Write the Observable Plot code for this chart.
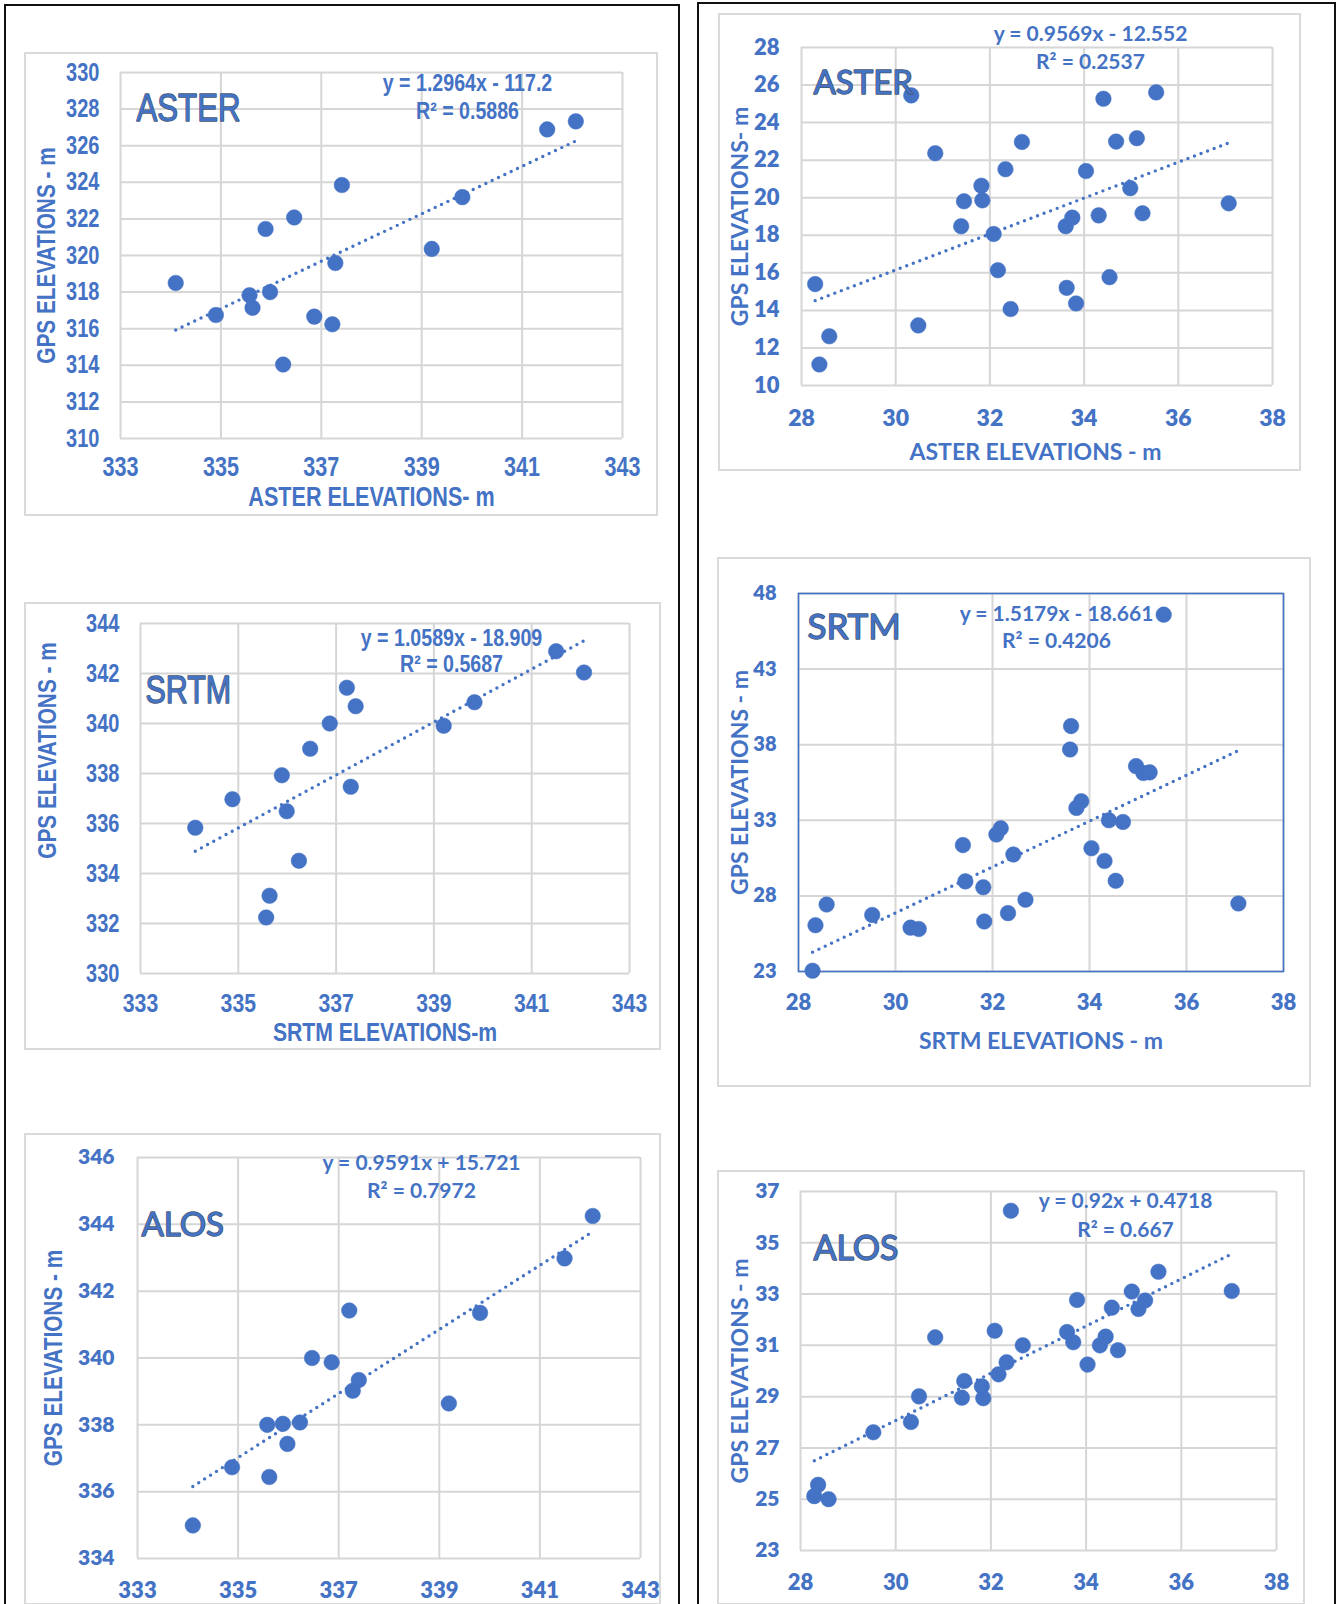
<!DOCTYPE html>
<html><head><meta charset="utf-8">
<script src="https://cdn.jsdelivr.net/npm/d3@7"></script>
<script src="https://cdn.jsdelivr.net/npm/@observablehq/plot@0.6"></script>
<style>
html,body{margin:0;padding:0;background:#fff;}
#page{position:relative;width:1342px;height:1604px;overflow:hidden;background:#fff;}
.col{position:absolute;border:2px solid #111;box-sizing:border-box;}
.box{position:absolute;border:2px solid #DADADA;box-sizing:border-box;}
.chart{position:absolute;}
</style></head><body><div id="page"></div>
<script>
// ---------------- DATA ----------------
const leftXTicks = [333, 335, 337, 339, 341, 343];
const rightXTicks = [28, 30, 32, 34, 36, 38];

// ASTER (left column)
const asterLeftX = [334.1, 334.9, 335.57, 335.63, 335.89, 335.98, 336.24, 336.46, 336.86, 337.22, 337.28, 337.41, 339.2, 339.81, 341.5, 342.07];
const asterLeftY = [318.5, 316.75, 317.83, 317.14, 321.45, 318.0, 314.04, 322.08, 316.66, 316.24, 319.59, 323.85, 320.36, 323.19, 326.89, 327.33];
const asterLeftYTicks = [310, 312, 314, 316, 318, 320, 322, 324, 326, 328, 330];
const asterLeftFit = [1.2964, -117.2];
const asterLeftEq = ["y = 1.2964x - 117.2", "R² = 0.5886"];

// SRTM (left column)
const srtmLeftX = [334.12, 334.88, 335.57, 335.64, 335.89, 335.99, 336.24, 336.47, 336.87, 337.22, 337.3, 337.4, 339.2, 339.83, 341.5, 342.07];
const srtmLeftY = [335.83, 336.97, 332.24, 333.11, 337.93, 336.49, 334.51, 338.99, 340.0, 341.43, 337.47, 340.69, 339.91, 340.85, 342.89, 342.04];
const srtmLeftYTicks = [330, 332, 334, 336, 338, 340, 342, 344];
const srtmLeftFit = [1.0589, -18.909];
const srtmLeftEq = ["y = 1.0589x - 18.909", "R² = 0.5687"];

// ALOS (left column)
const alosLeftX = [334.1, 334.88, 335.58, 335.62, 335.89, 335.98, 336.23, 336.47, 336.86, 337.21, 337.28, 337.4, 339.19, 339.81, 341.49, 342.05];
const alosLeftY = [334.99, 336.73, 338.0, 336.44, 338.03, 337.43, 338.07, 340.0, 339.87, 341.42, 339.02, 339.34, 338.64, 341.35, 342.98, 344.25];
const alosLeftYTicks = [334, 336, 338, 340, 342, 344, 346];
const alosLeftFit = [0.9591, 15.721];
const alosLeftEq = ["y = 0.9591x + 15.721", "R² = 0.7972"];

// ASTER (right column)
const asterRightX = [28.29, 28.38, 28.59, 30.33, 30.48, 30.84, 31.39, 31.45, 31.82, 31.84, 32.08, 32.17, 32.33, 32.44, 32.68, 33.61, 33.63, 33.75, 33.83, 34.04, 34.31, 34.41, 34.54, 34.68, 34.98, 35.12, 35.24, 35.53, 37.07];
const asterRightY = [15.4, 11.12, 12.62, 25.45, 13.2, 22.37, 18.48, 19.81, 20.64, 19.86, 18.07, 16.14, 21.52, 14.07, 22.97, 18.48, 15.2, 18.94, 14.37, 21.42, 19.06, 25.27, 15.77, 22.99, 20.51, 23.17, 19.17, 25.61, 19.7];
const asterRightYTicks = [10, 12, 14, 16, 18, 20, 22, 24, 26, 28];
const asterRightFit = [0.9569, -12.552];
const asterRightEq = ["y = 0.9569x - 12.552", "R² = 0.2537"];

// SRTM (right column)
const srtmRightX = [28.29, 28.35, 28.58, 29.52, 30.31, 30.48, 31.39, 31.44, 31.81, 31.83, 32.08, 32.17, 32.32, 32.43, 32.68, 33.6, 33.62, 33.73, 33.83, 34.04, 34.31, 34.4, 34.54, 34.69, 34.96, 35.11, 35.24, 35.53, 37.07];
const srtmRightY = [23.05, 26.06, 27.43, 26.74, 25.9, 25.81, 31.36, 28.96, 28.57, 26.31, 32.06, 32.47, 26.86, 30.74, 27.75, 37.68, 39.23, 33.82, 34.26, 31.15, 30.31, 33.0, 29.0, 32.89, 36.58, 36.13, 36.17, 46.6, 27.5];
const srtmRightYTicks = [23, 28, 33, 38, 43, 48];
const srtmRightFit = [1.5179, -18.661];
const srtmRightEq = ["y = 1.5179x - 18.661", "R² = 0.4206"];

// ALOS (right column)
const alosRightX = [28.29, 28.37, 28.59, 29.53, 30.32, 30.49, 30.83, 31.39, 31.44, 31.81, 31.84, 32.08, 32.16, 32.33, 32.42, 32.67, 33.6, 33.73, 33.81, 34.03, 34.29, 34.41, 34.54, 34.67, 34.96, 35.1, 35.24, 35.52, 37.06];
const alosRightY = [25.12, 25.56, 25.0, 27.61, 28.01, 29.01, 31.31, 28.96, 29.61, 29.4, 28.94, 31.57, 29.87, 30.34, 36.25, 31.0, 31.52, 31.12, 32.77, 30.25, 31.0, 31.34, 32.47, 30.81, 33.1, 32.42, 32.75, 33.87, 33.12];
const alosRightYTicks = [23, 25, 27, 29, 31, 33, 35, 37];
const alosRightFit = [0.92, 0.4718];
const alosRightEq = ["y = 0.92x + 0.4718", "R² = 0.667"];

// ---------------- STYLE ----------------
const BLUE = "#4472C4";
const GRID = "#D6D6D6";
const NARROW = '"Liberation Sans", Arial, sans-serif';   // condensed afterwards
const CAL = 'Lato, Carlito, Calibri, sans-serif';

const page = document.getElementById("page");
function addDiv(cls, L, T, W, H) {
  const d = document.createElement("div");
  d.className = cls;
  d.style.left = L + "px"; d.style.top = T + "px";
  d.style.width = W + "px"; d.style.height = H + "px";
  page.appendChild(d);
  return d;
}
// black column frames
addDiv("col", 4, 4, 676, 1700);
addDiv("col", 697, 2, 639, 1700);

function condense(svg, factor) {
  svg.querySelectorAll("text").forEach(t => {
    const ff = getComputedStyle(t).fontFamily;
    if (!ff.includes("Liberation Sans")) return;
    const len = t.getComputedTextLength();
    if (len > 0) {
      t.setAttribute("textLength", (len * factor).toFixed(2));
      t.setAttribute("lengthAdjust", "spacingAndGlyphs");
    }
  });
}

function panel(p) {
  addDiv("box", p.box.L - 1, p.box.T - 1, p.box.R - p.box.L + 2, p.box.B - p.box.T + 2);
  const W = p.box.R - p.box.L, H = p.box.B - p.box.T;
  const mL = p.plot.L - p.box.L, mT = p.plot.T - p.box.T;
  const mR = p.box.R - p.plot.R, mB = p.box.B - p.plot.B;
  const pts = p.xs.map((x, i) => ({x, y: p.ys[i]}));
  const [a, b] = p.fit;
  const trend = [d3.min(p.xs), d3.max(p.xs)].map(x => ({x, y: a * x + b}));
  const marks = [
    Plot.gridX({ticks: p.xTicks, stroke: GRID, strokeOpacity: 1, strokeWidth: 2}),
    Plot.gridY({ticks: p.yTicks, stroke: GRID, strokeOpacity: 1, strokeWidth: 2}),
    Plot.axisX({ticks: p.xTicks, tickSize: 0, tickPadding: p.xPad, fontSize: p.xFont, fontWeight: p.tickWeight, fontFamily: p.tickFamily, fill: BLUE, label: null}),
    Plot.axisY({ticks: p.yTicks, tickSize: 0, tickPadding: p.yPad, fontSize: p.yFont, fontWeight: p.tickWeight, fontFamily: p.tickFamily, fill: BLUE, label: null})
  ];
  if (p.frame) marks.push(Plot.frame({stroke: BLUE, strokeWidth: 1.6}));
  marks.push(
    Plot.dot(pts, {x: "x", y: "y", r: 7.8, fill: BLUE, stroke: BLUE, strokeWidth: 0.5}),
    Plot.line(trend, {x: "x", y: "y", stroke: BLUE, strokeWidth: 3.4, strokeDasharray: "0 7", strokeLinecap: "round"}),
    Plot.text([p.name], {frameAnchor: "top-left", dx: p.nameDx, dy: p.nameDy, text: d => d, textAnchor: "start", lineAnchor: "middle", fontSize: p.nameFont, fontFamily: p.nameFamily, fill: BLUE, stroke: "#44546A", strokeWidth: 1.4, paintOrder: "stroke"}),
    Plot.text([p.eq[0]], {frameAnchor: "top-left", dx: p.eqDx, dy: p.eqDy[0], text: d => d, textAnchor: "middle", lineAnchor: "middle", fontSize: p.eqFont, fontWeight: "bold", fontFamily: p.eqFamily, fill: BLUE}),
    Plot.text([p.eq[1]], {frameAnchor: "top-left", dx: p.eqDx, dy: p.eqDy[1], text: d => d, textAnchor: "middle", lineAnchor: "middle", fontSize: p.eqFont, fontWeight: "bold", fontFamily: p.eqFamily, fill: BLUE}),
    Plot.text([p.yTitle], {frameAnchor: "left", dx: p.yTitleDx, dy: p.yTitleDy || 0, rotate: -90, text: d => d, textAnchor: "middle", lineAnchor: "middle", fontSize: p.yTitleFont, fontWeight: "bold", fontFamily: p.yTitleFamily, fill: BLUE})
  );
  if (p.xTitle) marks.push(
    Plot.text([p.xTitle], {frameAnchor: "bottom", dx: p.xTitleDx || 0, dy: p.xTitleDy, text: d => d, textAnchor: "middle", lineAnchor: "middle", fontSize: p.xTitleFont, fontWeight: "bold", fontFamily: p.xTitleFamily, fill: BLUE})
  );
  const chart = Plot.plot({
    width: W, height: H,
    marginLeft: mL, marginRight: mR, marginTop: mT, marginBottom: mB,
    x: {domain: [p.xTicks[0], p.xTicks[p.xTicks.length - 1]]},
    y: {domain: [p.yTicks[0], p.yTicks[p.yTicks.length - 1]]},
    style: {background: "transparent", overflow: "visible", color: BLUE, fontFamily: p.tickFamily},
    marks
  });
  const holder = addDiv("chart", p.box.L, p.box.T, W, H);
  holder.appendChild(chart);
  condense(chart, 0.8);
}

panel({
  box: {L: 25, T: 53, R: 657, B: 515}, plot: {L: 120, T: 72, R: 622, B: 438},
  xs: asterLeftX, ys: asterLeftY, xTicks: leftXTicks, yTicks: asterLeftYTicks, fit: asterLeftFit, eq: asterLeftEq,
  tickFamily: NARROW, tickWeight: "bold", xPad: 18.5, xFont: 27, yPad: 21, yFont: 25,
  name: "ASTER", nameDx: 16, nameDy: 36, nameFont: 39, nameFamily: NARROW,
  eqDx: 347, eqDy: [11, 38.5], eqFont: 24.5, eqFamily: NARROW,
  yTitle: "GPS ELEVATIONS - m", yTitleDx: -74, yTitleFont: 26, yTitleFamily: NARROW,
  xTitle: "ASTER ELEVATIONS- m", xTitleDy: 59, xTitleFont: 27, xTitleFamily: NARROW
});
panel({
  box: {L: 25, T: 603, R: 660, B: 1049}, plot: {L: 140, T: 623, R: 629, B: 973},
  xs: srtmLeftX, ys: srtmLeftY, xTicks: leftXTicks, yTicks: srtmLeftYTicks, fit: srtmLeftFit, eq: srtmLeftEq,
  tickFamily: NARROW, tickWeight: "bold", xPad: 19.5, xFont: 26.5, yPad: 21, yFont: 25,
  name: "SRTM", nameDx: 5, nameDy: 67.5, nameFont: 38, nameFamily: NARROW,
  eqDx: 311, eqDy: [15, 41], eqFont: 24.5, eqFamily: NARROW,
  yTitle: "GPS ELEVATIONS - m", yTitleDx: -93, yTitleDy: -48, yTitleFont: 26, yTitleFamily: NARROW,
  xTitle: "SRTM ELEVATIONS-m", xTitleDy: 59, xTitleFont: 26.5, xTitleFamily: NARROW
});
panel({
  box: {L: 25, T: 1134, R: 660, B: 1604}, plot: {L: 137, T: 1157, R: 640, B: 1558},
  xs: alosLeftX, ys: alosLeftY, xTicks: leftXTicks, yTicks: alosLeftYTicks, fit: alosLeftFit, eq: alosLeftEq,
  tickFamily: CAL, tickWeight: 800, xPad: 23.5, xFont: 22, yPad: 23, yFont: 21,
  name: "ALOS", nameDx: 4, nameDy: 68, nameFont: 33, nameFamily: CAL,
  eqDx: 284, eqDy: [6, 34], eqFont: 21, eqFamily: CAL,
  yTitle: "GPS ELEVATIONS - m", yTitleDx: -84, yTitleFont: 26, yTitleFamily: NARROW
});
panel({
  box: {L: 719, T: 14, R: 1300, B: 470}, plot: {L: 801, T: 47, R: 1272, B: 385},
  xs: asterRightX, ys: asterRightY, xTicks: rightXTicks, yTicks: asterRightYTicks, fit: asterRightFit, eq: asterRightEq,
  tickFamily: CAL, tickWeight: 800, xPad: 24, xFont: 23, yPad: 22, yFont: 22,
  name: "ASTER", nameDx: 12, nameDy: 36, nameFont: 33, nameFamily: CAL,
  eqDx: 289, eqDy: [-13, 15], eqFont: 21, eqFamily: CAL,
  yTitle: "GPS ELEVATIONS- m", yTitleDx: -61, yTitleFont: 23, yTitleFamily: CAL,
  xTitle: "ASTER ELEVATIONS - m", xTitleDx: -1.5, xTitleDy: 67.5, xTitleFont: 23, xTitleFamily: CAL
});
panel({
  box: {L: 718, T: 558, R: 1310, B: 1086}, plot: {L: 798, T: 593, R: 1283, B: 971},
  xs: srtmRightX, ys: srtmRightY, xTicks: rightXTicks, yTicks: srtmRightYTicks, fit: srtmRightFit, eq: srtmRightEq,
  tickFamily: CAL, tickWeight: 800, xPad: 23, xFont: 22, yPad: 22, yFont: 20, frame: true,
  name: "SRTM", nameDx: 9, nameDy: 34.5, nameFont: 35, nameFamily: CAL,
  eqDx: 258, eqDy: [21, 48], eqFont: 21, eqFamily: CAL,
  yTitle: "GPS ELEVATIONS - m", yTitleDx: -58, yTitleFont: 23, yTitleFamily: CAL,
  xTitle: "SRTM ELEVATIONS - m", xTitleDy: 70, xTitleFont: 23, xTitleFamily: CAL
});
panel({
  box: {L: 718, T: 1171, R: 1304, B: 1604}, plot: {L: 800, T: 1191, R: 1276, B: 1550},
  xs: alosRightX, ys: alosRightY, xTicks: rightXTicks, yTicks: alosRightYTicks, fit: alosRightFit, eq: alosRightEq,
  tickFamily: CAL, tickWeight: 800, xPad: 23.5, xFont: 22, yPad: 21, yFont: 21,
  name: "ALOS", nameDx: 13, nameDy: 58, nameFont: 34, nameFamily: CAL,
  eqDx: 325, eqDy: [10, 38.5], eqFont: 21, eqFamily: CAL,
  yTitle: "GPS ELEVATIONS - m", yTitleDx: -60, yTitleFont: 23, yTitleFamily: CAL
});
</script>
</body></html>
